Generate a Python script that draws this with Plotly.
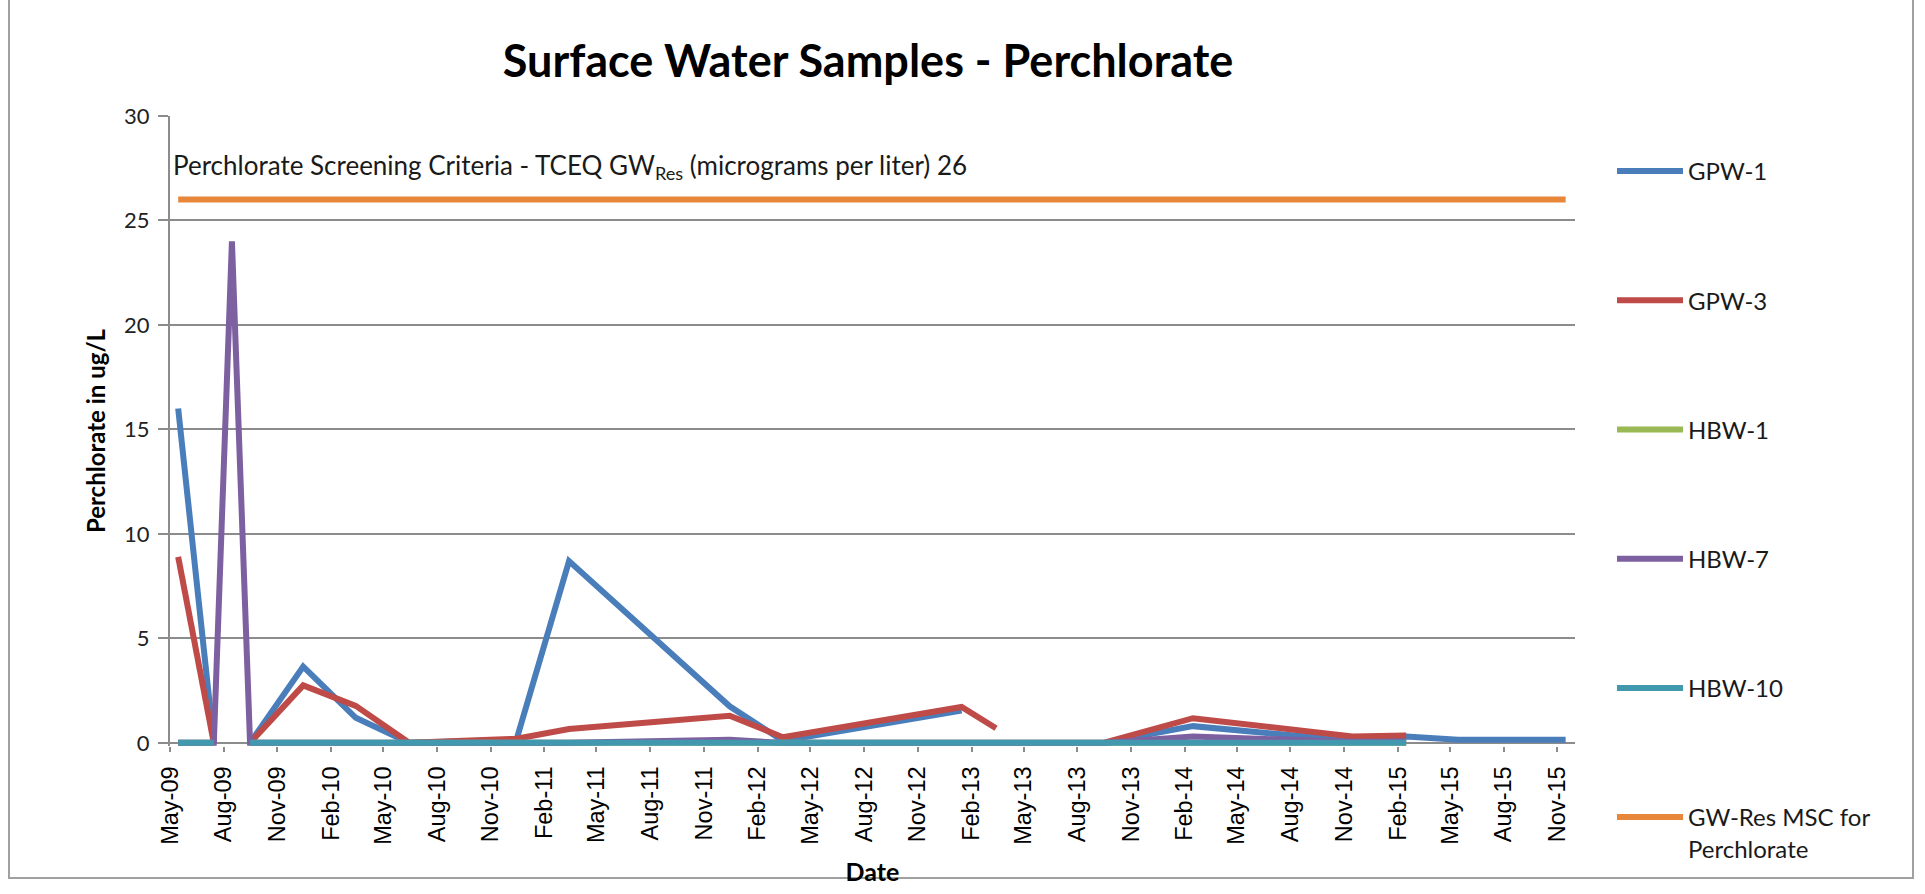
import plotly.graph_objects as go

# ---- data (sample months; values in ug/L) ----
dates = ["2009-05-15", "2009-07-15", "2009-08-15", "2009-09-15", "2009-12-15",
         "2010-03-15", "2010-06-15", "2010-12-15", "2011-03-15", "2011-12-15",
         "2012-03-15", "2013-01-15", "2013-03-15", "2013-06-15", "2013-09-15",
         "2014-02-15", "2014-11-15", "2015-02-15", "2015-05-15", "2015-11-15"]

gpw1 = [16.0, 0.0, None, 0.0, 3.65, 1.2, 0.0, 0.15, 8.7, 1.75,
        0.1, 1.55, None, None, 0.0, 0.8, 0.1, 0.3, 0.15, 0.15]
gpw3 = [8.9, 0.0, None, 0.0, 2.75, 1.77, 0.0, 0.2, 0.66, 1.3,
        0.27, 1.72, 0.7, None, 0.0, 1.18, 0.3, 0.35, None, None]
hbw1 = [0.0, 0.0, None, 0.0, 0.0, 0.0, 0.0, 0.0, 0.0, 0.0,
        0.0, 0.0, 0.0, 0.0, 0.0, 0.0, 0.0, 0.0, None, None]
hbw7 = [0.0, 0.0, 24.0, 0.0, 0.0, 0.0, 0.0, 0.0, 0.0, 0.15,
        0.0, 0.0, 0.0, 0.0, 0.0, 0.3, 0.05, 0.05, None, None]
hbw10 = [0.0, 0.0, None, 0.0, 0.0, 0.0, 0.0, 0.0, 0.0, 0.0,
         0.0, 0.0, 0.0, 0.0, 0.0, 0.0, 0.0, 0.0, None, None]
gw_res_dates = ["2009-05-15", "2015-11-15"]
gw_res = [26, 26]

series_names = ["GPW-1", "GPW-3", "HBW-1", "HBW-7", "HBW-10",
                "GW-Res MSC for<br>Perchlorate"]
colors = ["#4A7EBB", "#BE4B48", "#98B954", "#7D60A0", "#4198AF", "#E8863A"]

GRID = "#8C8C8C"
W, H = 1925, 894
L, R, T, B = 170, 350, 116, 148

fig = go.Figure()
xs = [dates, dates, dates, dates, dates, gw_res_dates]
ys = [gpw1, gpw3, hbw1, hbw7, hbw10, gw_res]
for i, (name, x, y, c) in enumerate(zip(series_names, xs, ys, colors)):
    fig.add_trace(go.Scatter(
        x=x, y=y, name=name, mode="lines", legendgroup=str(i),
        line=dict(color=c, width=6), connectgaps=False))

fig.add_annotation(
    text="Perchlorate Screening Criteria - TCEQ GW<sub>Res</sub> (micrograms per liter) 26",
    xref="paper", x=0.0, xanchor="left", xshift=1,
    yref="y", y=27.6, yanchor="middle", showarrow=False,
    font=dict(family="Lato", size=26, color="#1a1a1a"))

# outer chart border
pw = W - L - R
ph = H - T - B
fig.add_shape(type="rect", xref="paper", yref="paper",
              x0=(9 - L) / pw, x1=(1913 - L) / pw,
              y0=(H - T - 910) / ph, y1=(H - T - 4) / ph,
              line=dict(color="#A0A0A0", width=2), fillcolor="rgba(0,0,0,0)",
              layer="below")

fig.update_layout(
    width=W, height=H,
    margin=dict(l=L, r=R, t=T, b=B, autoexpand=False),
    paper_bgcolor="white", plot_bgcolor="white",
    title=dict(text="<b>Surface Water Samples - Perchlorate</b>",
               x=868 / W, xanchor="center", y=1 - 61 / H, yanchor="middle",
               font=dict(family="Lato", size=45, color="black")),
    legend=dict(x=(1612 - L) / pw, xanchor="left",
                y=(H - 151 - 146) / ph, yanchor="top",
                tracegroupgap=95, valign="top", itemwidth=66,
                maxheight=860,
                font=dict(family="Lato", size=24, color="#1a1a1a"),
                bgcolor="rgba(0,0,0,0)"),
    xaxis=dict(type="date", range=["2009-05-01", "2015-12-01"],
               tick0="2009-05-01", dtick="M3", tickformat="%b-%y",
               tickangle=-90, ticks="outside", ticklen=5, tickwidth=2,
               tickcolor=GRID, showline=False,
               showgrid=False, zeroline=False, ticklabelstandoff=5,
               tickfont=dict(family="Liberation Sans", size=23.5, color="black"),
               title=dict(text="<b>Date</b>", standoff=19,
                          font=dict(family="Lato", size=25, color="black"))),
    yaxis=dict(range=[-0.15, 30], tick0=0, dtick=5, ticks="outside", ticklen=10,
               tickwidth=2, tickcolor=GRID, showline=True, linecolor=GRID,
               linewidth=2, showgrid=True, gridcolor=GRID, gridwidth=2,
               zeroline=True, zerolinecolor=GRID, zerolinewidth=2,
               ticklabelstandoff=4,
               tickfont=dict(family="Lato", size=22, color="#222"),
               title=dict(text="<b>Perchlorate in ug/L</b>", standoff=12,
                          font=dict(family="Lato", size=24, color="black"))),
)

fig.write_html("out.html", config={"displayModeBar": False},
               post_script="document.body.style.margin='0';")
